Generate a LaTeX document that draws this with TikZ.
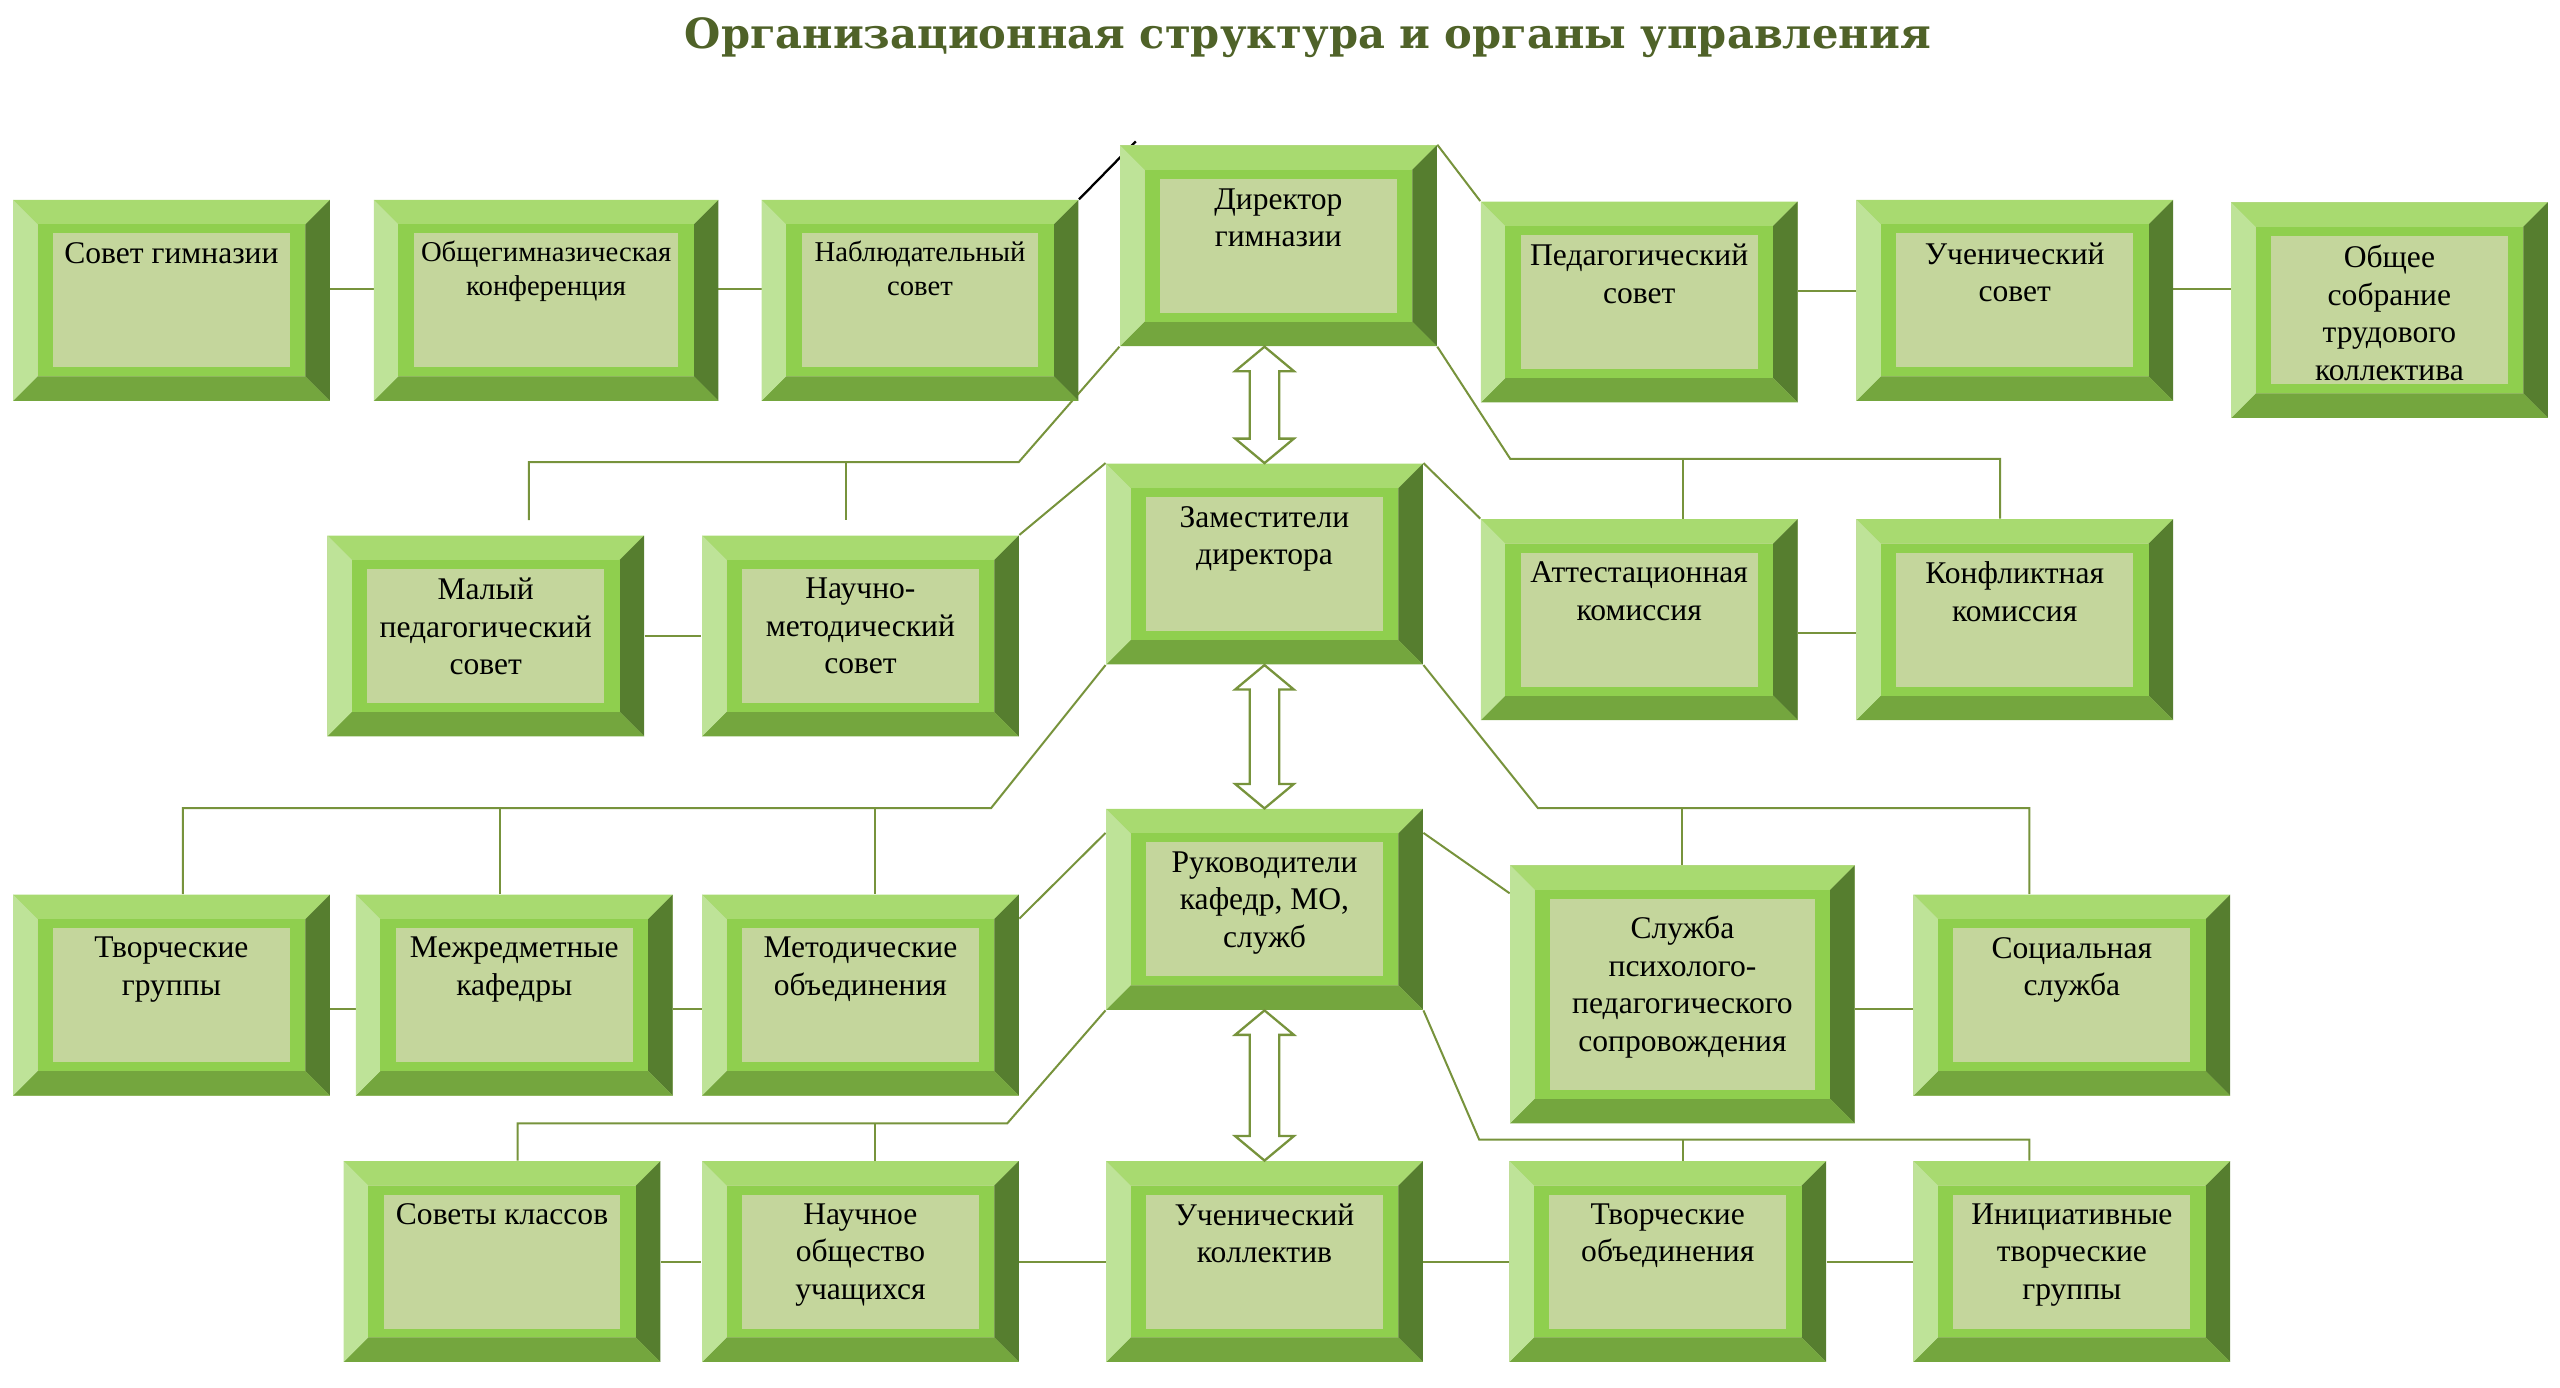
\documentclass[tikz,border=0pt]{standalone}
\usepackage{fontspec}
\setmainfont{Liberation Serif}
\newfontfamily\titlefont{DejaVu Serif}
\usepackage{tikz}
\usetikzlibrary{arrows.meta, positioning, calc, backgrounds}
\definecolor{GreenTitle}{RGB}{79,98,40}
\definecolor{GreenLine}{RGB}{119,147,60}
\definecolor{GreenTop}{RGB}{168,218,112}
\definecolor{GreenLeft}{RGB}{190,227,152}
\definecolor{GreenRight}{RGB}{86,126,47}
\definecolor{GreenBottom}{RGB}{116,166,62}
\definecolor{GreenRim}{RGB}{143,207,78}
\definecolor{GreenFace}{RGB}{196,214,156}

% двойная стрелка между блоками центральной колонки
\newcommand{\twoway}[2]{%
  \draw[dbl] let \p1=(#1), \p2=(#2) in
    (\p1) -- (\x1+3.6mm,\y1-3mm) -- (\x1+1.8mm,\y1-3mm) -- (\x1+1.8mm,\y2+3mm)
    -- (\x1+3.6mm,\y2+3mm) -- (\p2) -- (\x1-3.6mm,\y2+3mm) -- (\x1-1.8mm,\y2+3mm)
    -- (\x1-1.8mm,\y1-3mm) -- (\x1-3.6mm,\y1-3mm) -- cycle;}

\begin{document}
\begin{tikzpicture}[x=0.2mm, y=-0.2mm,
	blk/.style={rectangle, inner sep=0pt, fill=GreenFace,
		minimum width=38.8mm, minimum height=24.6mm,
		path picture={
			\coordinate (q1) at (path picture bounding box.north west);
			\coordinate (q2) at (path picture bounding box.north east);
			\coordinate (q3) at (path picture bounding box.south east);
			\coordinate (q4) at (path picture bounding box.south west);
			\fill[GreenTop] (q1) -- (q2) -- ([shift={(-3mm,-3mm)}]q2) -- ([shift={(3mm,-3mm)}]q1) -- cycle;
			\fill[GreenRight] (q2) -- (q3) -- ([shift={(-3mm,3mm)}]q3) -- ([shift={(-3mm,-3mm)}]q2) -- cycle;
			\fill[GreenBottom] (q3) -- (q4) -- ([shift={(3mm,3mm)}]q4) -- ([shift={(-3mm,3mm)}]q3) -- cycle;
			\fill[GreenLeft] (q4) -- (q1) -- ([shift={(3mm,-3mm)}]q1) -- ([shift={(3mm,3mm)}]q4) -- cycle;
			\fill[GreenRim] ([shift={(3mm,-3mm)}]q1) rectangle ([shift={(-3mm,3mm)}]q3);
			\fill[GreenFace] ([shift={(4.9mm,-4.1mm)}]q1) rectangle ([shift={(-4.9mm,4.1mm)}]q3);
		}},
	txt/.style={font=\fontsize{11}{13.1}\selectfont, align=center, inner sep=0pt},
	sm/.style={font=\fontsize{10}{12}\selectfont},
	ln/.style={draw=GreenLine, line width=0.7pt},
	dbl/.style={draw=GreenLine, line width=0.8pt, fill=white}]

	\useasboundingbox (0,0) rectangle (1568,850);

	\node[font=\titlefont\bfseries\fontsize{14.5}{17}\selectfont, text=GreenTitle] (title) at (801,23)
		{Организационная структура и органы управления};

	% первый ряд
	\node[blk] (sovet) at (105,184) {};
	\node[txt, below=5.2mm of sovet.north] (sovetT) {Совет гимназии};
	\node[blk, minimum width=42.2mm] (konf) at (334.5,184) {};
	\node[txt, sm, below=5mm of konf.north] (konfT) {Общегимназическая\\конференция};
	\node[blk] (nabl) at (563.5,184) {};
	\node[txt, sm, below=5mm of nabl.north] (nablT) {Наблюдательный\\совет};
	\node[blk] (dir) at (783,150.5) {};
	\node[txt, below=5.3mm of dir.north] (dirT) {Директор\\гимназии};
	\node[blk] (ped) at (1004,185) {};
	\node[txt, below=5.2mm of ped.north] (pedT) {Педагогический\\совет};
	\node[blk] (uchs) at (1234,184) {};
	\node[txt, below=5.2mm of uchs.north] (uchsT) {Ученический\\совет};
	\node[blk, minimum height=26.4mm] (obsh) at (1463.5,190) {};
	\node[txt, below=5.2mm of obsh.north] (obshT) {Общее\\собрание\\трудового\\коллектива};

	% второй ряд
	\node[blk] (zam) at (774.5,345.5) {};
	\node[txt, below=5.2mm of zam.north] (zamT) {Заместители\\директора};
	\node[blk] (maly) at (297.5,389.5) {};
	\node[txt, below=5.2mm of maly.north] (malyT) {Малый\\педагогический\\совет};
	\node[blk] (nms) at (527,389.5) {};
	\node[txt, below=5.2mm of nms.north] (nmsT) {Научно-\\методический\\совет};
	\node[blk] (att) at (1004,379.5) {};
	\node[txt, below=5.2mm of att.north] (attT) {Аттестационная\\комиссия};
	\node[blk] (konfl) at (1234,379.5) {};
	\node[txt, below=5.2mm of konfl.north] (konflT) {Конфликтная\\комиссия};

	% третий ряд
	\node[blk] (ruk) at (774.5,557) {};
	\node[txt, below=5.2mm of ruk.north] (rukT) {Руководители\\кафедр, МО,\\служб};
	\node[blk] (tvg) at (105,609.5) {};
	\node[txt, below=5.2mm of tvg.north] (tvgT) {Творческие\\группы};
	\node[blk] (mezh) at (315,609.5) {};
	\node[txt, below=5.2mm of mezh.north] (mezhT) {Межредметные\\кафедры};
	\node[blk] (met) at (527,609.5) {};
	\node[txt, below=5.2mm of met.north] (metT) {Методические\\объединения};
	\node[blk, minimum width=42.2mm, minimum height=31.6mm] (sluzh) at (1030.5,609) {};
	\node[txt, below=6.2mm of sluzh.north] (sluzhT) {Служба\\психолого-\\педагогического\\сопровождения};
	\node[blk] (soc) at (1269,609.5) {};
	\node[txt, below=5.2mm of soc.north] (socT) {Социальная\\служба};

	% четвёртый ряд
	\node[blk] (sovk) at (307.5,772.7) {};
	\node[txt, below=5.2mm of sovk.north] (sovkT) {Советы классов};
	\node[blk] (nou) at (527,772.7) {};
	\node[txt, below=5.2mm of nou.north] (nouT) {Научное\\общество\\учащихся};
	\node[blk] (uchk) at (774.5,772.7) {};
	\node[txt, below=5.2mm of uchk.north] (uchkT) {Ученический\\коллектив};
	\node[blk] (tvo) at (1021.5,772.7) {};
	\node[txt, below=5.2mm of tvo.north] (tvoT) {Творческие\\объединения};
	\node[blk] (init) at (1269,772.7) {};
	\node[txt, below=5.2mm of init.north] (initT) {Инициативные\\творческие\\группы};

	\begin{scope}[on background layer]
		\foreach \a/\b in {sovet/konf, konf/nabl, ped/uchs, uchs/obsh}
			\draw[ln] ([yshift=1.4mm]\a.center) -- ([yshift=1.4mm]\a.center -| \b.center);
		\draw[black, line width=0.8pt] (nabl.north east) -- ([shift={(2mm,0.4mm)}]dir.north west);
		\draw[ln] (dir.north east) -- (ped.north west);

		\coordinate (b2l) at (624,283);
		\coordinate (b2r) at (925,281);
		\draw[ln] (dir.south west) -- (b2l) -| ([xshift=5.3mm, yshift=1.8mm]maly.north);
		\draw[ln] ([xshift=-1.8mm]nms.north |- b2l) -- ([xshift=-1.8mm, yshift=1.8mm]nms.north);
		\draw[ln] (dir.south east) -- (b2r) -| ([xshift=-1.8mm]konfl.north);
		\draw[ln] ([xshift=5.4mm]att.north |- b2r) -- ([xshift=5.4mm]att.north);
		\draw[ln] (zam.north west) -- (nms.north east);
		\draw[ln] (zam.north east) -- (att.north west);
		\draw[ln] (maly) -- (nms);
		\draw[ln] ([yshift=-1.7mm]att.center) -- ([yshift=-1.7mm]att.center -| konfl.center);

		\coordinate (b3l) at (607,495);
		\coordinate (b3r) at (942,495);
		\draw[ln] (zam.south west) -- (b3l) -| ([xshift=1.4mm]tvg.north);
		\foreach \n/\s in {mezh/-1.8mm, met/1.8mm}
			\draw[ln] ([xshift=\s]\n.north |- b3l) -- ([xshift=\s]\n.north);
		\draw[ln] (zam.south east) -- (b3r) -| ([xshift=-5.2mm]soc.north);
		\draw[ln] (sluzh.north |- b3r) -- (sluzh.north);
		\draw[ln] ([yshift=-3mm]ruk.north west) -- ([yshift=-3mm]met.north east);
		\draw[ln] ([yshift=-3mm]ruk.north east) -- ([yshift=-3.5mm]sluzh.north west);
		\foreach \a/\b in {tvg/mezh, mezh/met, soc/sluzh}
			\draw[ln] ([yshift=-1.7mm]\a.center) -- ([yshift=-1.7mm]\a.center -| \b.center);

		\coordinate (b4l) at (617,688);
		\coordinate (b4r) at (906,698);
		\draw[ln] (ruk.south west) -- (b4l) -| ([xshift=1.9mm]sovk.north);
		\draw[ln] ([xshift=1.8mm]nou.north |- b4l) -- ([xshift=1.8mm]nou.north);
		\draw[ln] (ruk.south east) -- (b4r) -| ([xshift=-5.2mm]init.north);
		\draw[ln] ([xshift=1.9mm]tvo.north |- b4r) -- ([xshift=1.9mm]tvo.north);
		\foreach \a/\b in {sovk/nou, nou/uchk, uchk/tvo, tvo/init}
			\draw[ln] (\a) -- (\b);
	\end{scope}

	\twoway{zam.north |- dir.south}{zam.north}
	\twoway{zam.south}{ruk.north}
	\twoway{ruk.south}{uchk.north}
\end{tikzpicture}
\end{document}
